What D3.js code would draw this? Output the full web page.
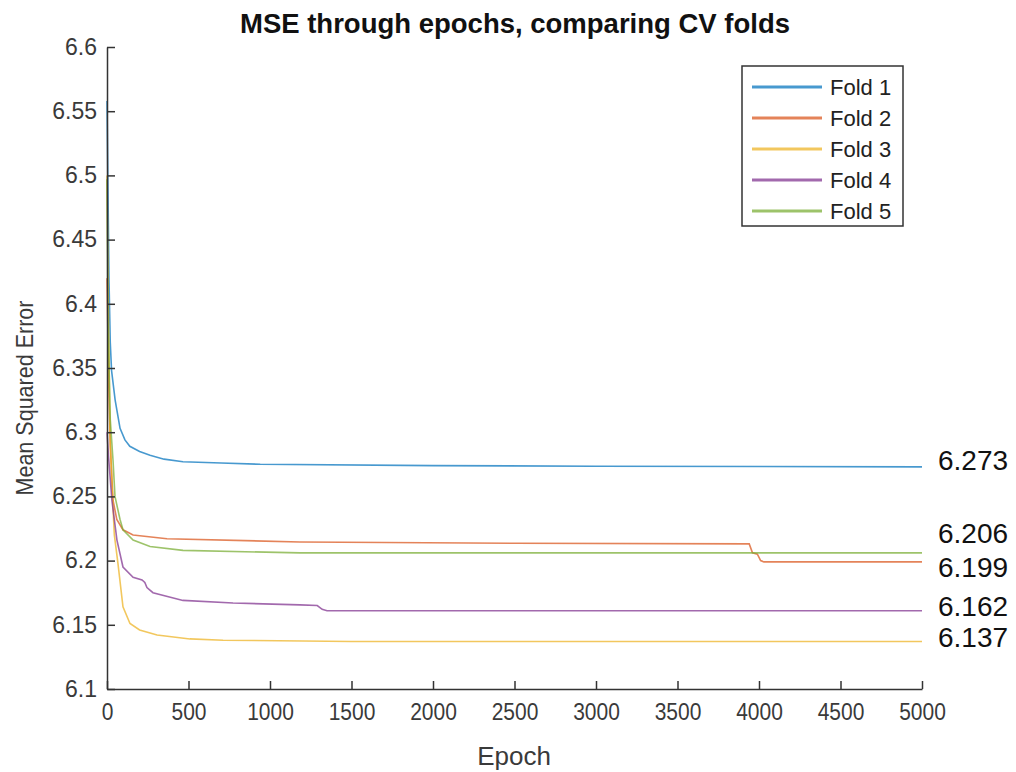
<!DOCTYPE html>
<html>
<head>
<meta charset="utf-8">
<script src="https://cdn.jsdelivr.net/npm/d3@7"></script>
<style>
  body { margin: 0; background: #fff; }
  text { font-family: "Liberation Sans", Arial, sans-serif; }
</style>
</head>
<body>
<script>
// data: [epoch, mse]
var fold1 = [[0,6.558],[5,6.50],[12,6.42],[20,6.37],[28,6.348],[50,6.325],[80,6.303],[110,6.294],[140,6.289],[200,6.285],[264,6.282],[350,6.279],[466,6.277],[700,6.276],[940,6.275],[2000,6.274],[3000,6.2735],[5000,6.273]];
var fold2 = [[0,6.42],[10,6.34],[20,6.29],[37,6.247],[60,6.232],[98,6.224],[160,6.220],[368,6.217],[1184,6.2145],[2500,6.2135],[3940,6.213],[3960,6.206],[3990,6.205],[4010,6.200],[4030,6.199],[5000,6.199]];
var fold3 = [[0,6.50],[8,6.40],[18,6.30],[30,6.26],[45,6.22],[67,6.198],[98,6.164],[141,6.151],[200,6.146],[307,6.142],[509,6.139],[712,6.138],[1500,6.137],[5000,6.137]];
var fold4 = [[0,6.30],[10,6.28],[30,6.247],[61,6.216],[98,6.195],[160,6.187],[215,6.185],[232,6.183],[245,6.179],[282,6.175],[466,6.169],[773,6.167],[1184,6.1655],[1290,6.165],[1320,6.162],[1350,6.161],[5000,6.161]];
var fold5 = [[0,6.497],[6,6.39],[20,6.31],[37,6.278],[49,6.250],[80,6.232],[98,6.224],[160,6.216],[264,6.211],[466,6.208],[1184,6.206],[5000,6.206]];

var foldNames = ["Fold 1","Fold 2","Fold 3","Fold 4","Fold 5"];
var foldColors = ["#0072BD","#D95319","#EDB120","#7E2F8E","#77AC30"];
var xTicks = [0,500,1000,1500,2000,2500,3000,3500,4000,4500,5000];
var yTicks = [6.1,6.15,6.2,6.25,6.3,6.35,6.4,6.45,6.5,6.55,6.6];
var endValues = [6.273,6.206,6.199,6.162,6.137];
var endLabels = ["6.273","6.206","6.199","6.162","6.137"];
var endLabelShift = [3,-10,15,7,6];

var series = [fold1, fold2, fold3, fold4, fold5];

var svg = d3.select("body").append("svg")
    .attr("width", 1016).attr("height", 772);

var x = d3.scaleLinear().domain([0, 5000]).range([107, 922]);
var y = d3.scaleLinear().domain([6.1, 6.6]).range([689, 47]);

var axisColor = "#333";

// title
svg.append("text")
    .attr("x", 515).attr("y", 33)
    .attr("text-anchor", "middle")
    .attr("font-size", 27.5).attr("font-weight", "bold")
    .attr("fill", "#111")
    .text("MSE through epochs, comparing CV folds");

// lines
var line = d3.line().x(function(d) { return x(d[0]); }).y(function(d) { return y(d[1]); });
svg.append("g").selectAll("path")
    .data(series)
    .enter().append("path")
    .attr("d", line)
    .attr("fill", "none")
    .attr("stroke", function(d, i) { return foldColors[i]; })
    .attr("stroke-opacity", 0.72)
    .attr("stroke-width", 1.6);

// axes (inward ticks, no box)
var xAxis = svg.append("g")
    .attr("transform", "translate(0,689)")
    .call(d3.axisBottom(x).tickValues(xTicks).tickSizeInner(-8).tickSizeOuter(0).tickPadding(12).tickFormat(d3.format("d")));
var yAxis = svg.append("g")
    .attr("transform", "translate(107,0)")
    .call(d3.axisLeft(y).tickValues(yTicks).tickSizeInner(-8).tickSizeOuter(0).tickPadding(10).tickFormat(function(d) { return String(+d.toFixed(2)); }));

[xAxis, yAxis].forEach(function(a) {
  a.select(".domain").attr("stroke", axisColor).attr("stroke-width", 1.5);
  a.selectAll(".tick line").attr("stroke", axisColor).attr("stroke-width", 1.5);
  a.selectAll(".tick text").attr("fill", "#3a3a3a")
    .attr("font-family", "Liberation Sans, Arial, sans-serif");
});
// reference glyphs are a little taller than wide
xAxis.selectAll(".tick text").attr("font-size", 21).attr("transform", "scale(1,1.15)");
yAxis.selectAll(".tick text").attr("font-size", 23);

// axis labels
svg.append("text")
    .attr("x", 514).attr("y", 765)
    .attr("text-anchor", "middle")
    .attr("font-size", 26).attr("fill", "#3a3a3a")
    .text("Epoch");
svg.append("text")
    .attr("transform", "translate(33,398) rotate(-90)")
    .attr("text-anchor", "middle")
    .attr("font-size", 24).attr("fill", "#3a3a3a")
    .attr("textLength", 195).attr("lengthAdjust", "spacingAndGlyphs")
    .text("Mean Squared Error");

// final value annotations
svg.append("g").selectAll("text")
    .data(endValues)
    .enter().append("text")
    .attr("x", 938)
    .attr("y", function(d, i) { return y(d) + endLabelShift[i]; })
    .attr("font-family", "Open Sans, sans-serif")
    .attr("font-size", 28).attr("fill", "#111")
    .text(function(d, i) { return endLabels[i]; });

// legend
var legend = svg.append("g").attr("transform", "translate(742,66)");
legend.append("rect")
    .attr("width", 161).attr("height", 160)
    .attr("fill", "#fff").attr("stroke", "#333").attr("stroke-width", 1.5);
var items = legend.selectAll("g.item")
    .data(foldNames)
    .enter().append("g")
    .attr("class", "item")
    .attr("transform", function(d, i) { return "translate(0," + (21 + i * 31) + ")"; });
items.append("line")
    .attr("x1", 10).attr("x2", 80)
    .attr("stroke", function(d, i) { return foldColors[i]; })
    .attr("stroke-opacity", 0.72)
    .attr("stroke-width", 2.8);
items.append("text")
    .attr("x", 88).attr("y", 8)
    .attr("font-size", 22).attr("fill", "#222")
    .text(function(d) { return d; });
</script>
</body>
</html>
